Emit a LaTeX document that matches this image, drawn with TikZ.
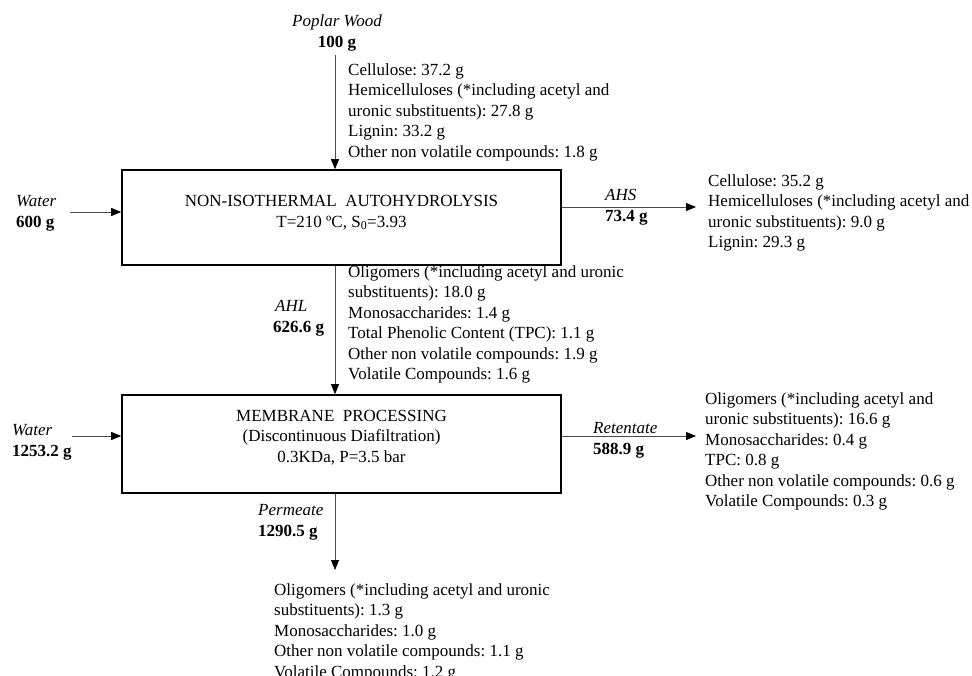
\documentclass[tikz,border=0pt]{standalone}
\usepackage{fontspec}
\setmainfont{Liberation Serif}
\usetikzlibrary{arrows.meta}
\begin{document}
\frenchspacing
\begin{tikzpicture}[x=1pt,y=-1pt,
  txt/.style={inner sep=0pt, align=left, font=\fontsize{17}{20.5}\selectfont\frenchspacing, anchor=base west},
  lbl/.style={inner sep=0pt, font=\fontsize{17}{20.5}\selectfont\frenchspacing},
  proc/.style={draw=black, line width=1.6pt, inner sep=0pt, minimum width=439pt, minimum height=95pt},
  flow/.style={draw=black!70, line width=0.8pt, -{Triangle[length=10pt,width=8pt,color=black,fill=black]}}]
\useasboundingbox (0,0) rectangle (972,675);

% process boxes (base anchors refer to the last text line)
\node[proc] (b1) at (341.5,217.5) {};
\node[lbl, align=center, anchor=base] (b1t) at (341.5,227) {NON-ISOTHERMAL\ \ AUTOHYDROLYSIS\\T=210 ºC, S\textsubscript{0}=3.93};
\node[proc, minimum height=98pt] (b2) at (341.5,444) {};
\node[lbl, align=center, anchor=base] (b2t) at (341.5,462) {MEMBRANE\ \ PROCESSING\\(Discontinuous Diafiltration)\\0.3KDa, P=3.5 bar};

% feed
\node[lbl, align=center, anchor=base] (feed) at (337,47) {\textit{Poplar Wood}\\\textbf{100 g}};
\coordinate (feedend) at (335,55);
\node[txt] (feedtxt) at (348,157) {Cellulose: 37.2 g\\Hemicelluloses (*including acetyl and\\uronic substituents): 27.8 g\\Lignin: 33.2 g\\Other non volatile compounds: 1.8 g};
\draw[flow] (feedend) -- (feedend |- b1.north);

% water 1
\node[lbl, align=left, anchor=base west] (w1) at (16,227) {\textit{Water}\\\textbf{600 g}};
\coordinate (w1end) at (70,212);
\draw[flow] (w1end) -- (w1end -| b1.west);

% AHS
\coordinate (ahsy) at (0,207);
\coordinate (ahsend) at (696,207);
\draw[flow] (b1.east |- ahsy) -- (ahsend);
\node[lbl, align=left, anchor=base west] (ahs) at (605,221) {\textit{AHS}\\\textbf{73.4 g}};
\node[txt] (ahstxt) at (708,247.5) {Cellulose: 35.2 g\\Hemicelluloses (*including acetyl and\\uronic substituents): 9.0 g\\Lignin: 29.3 g};

% AHL
\coordinate (ahlx) at (335,0);
\draw[flow] (ahlx |- b1.south) -- (ahlx |- b2.north);
\node[lbl, align=left, anchor=base west] (ahl) at (273,332) {\hspace*{2pt}\textit{AHL}\\\textbf{626.6 g}};
\node[txt] (ahltxt) at (348,379.5) {Oligomers (*including acetyl and uronic\\substituents): 18.0 g\\Monosaccharides: 1.4 g\\Total Phenolic Content (TPC): 1.1 g\\Other non volatile compounds: 1.9 g\\Volatile Compounds: 1.6 g};

% water 2
\node[lbl, align=left, anchor=base west] (w2) at (12,456) {\textit{Water}\\\textbf{1253.2 g}};
\coordinate (w2end) at (72,436);
\draw[flow] (w2end) -- (w2end -| b2.west);

% Retentate
\coordinate (rety) at (0,436);
\coordinate (retend) at (696,436);
\draw[flow] (b2.east |- rety) -- (retend);
\node[lbl, align=left, anchor=base west] (ret) at (593,454) {\textit{Retentate}\\\textbf{588.9 g}};
\node[txt] (rettxt) at (705,506.5) {Oligomers (*including acetyl and\\uronic substituents): 16.6 g\\Monosaccharides: 0.4 g\\TPC: 0.8 g\\Other non volatile compounds: 0.6 g\\Volatile Compounds: 0.3 g};

% Permeate
\coordinate (perend) at (335,570);
\draw[flow] (perend |- b2.south) -- (perend);
\node[lbl, align=left, anchor=base west] (per) at (258,536) {\textit{Permeate}\\\textbf{1290.5 g}};
\node[txt] (pertxt) at (274,677) {Oligomers (*including acetyl and uronic\\substituents): 1.3 g\\Monosaccharides: 1.0 g\\Other non volatile compounds: 1.1 g\\Volatile Compounds: 1.2 g};
\end{tikzpicture}
\end{document}
